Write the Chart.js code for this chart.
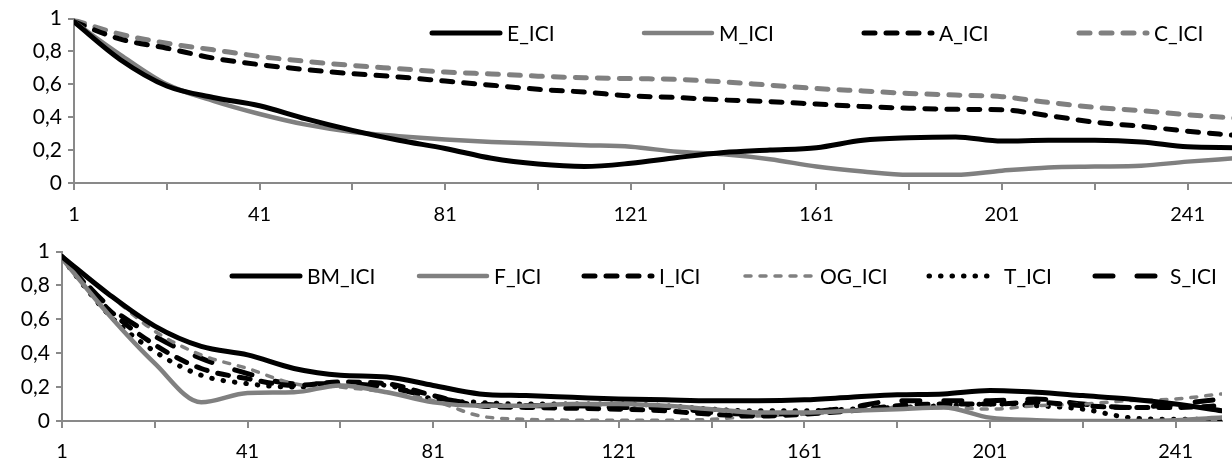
<!DOCTYPE html>
<html>
<head>
<meta charset="utf-8">
<script src="https://cdn.jsdelivr.net/npm/chart.js@4.4.1/dist/chart.umd.min.js"></script>
<style>
  html, body { margin: 0; padding: 0; background: #fff; overflow: hidden; }
  .panel { position: absolute; left: 0; }
</style>
</head>
<body>
<div class="panel" style="top:0"><canvas id="topChart" width="1240" height="233"></canvas></div>
<div class="panel" style="top:233px"><canvas id="bottomChart" width="1232" height="233"></canvas></div>
<script>
// === Data (one value every 10 steps) ===
const steps = [1, 11, 21, 31, 41, 51, 61, 71, 81, 91, 101, 111, 121, 131, 141, 151, 161, 171, 181, 191, 201, 211, 221, 231, 241, 251];
const xTickLabels = [1, 41, 81, 121, 161, 201, 241];
const yTicks = [0, 0.2, 0.4, 0.6, 0.8, 1];

// top panel
const E_ICI = [0.98, 0.75, 0.59, 0.52, 0.47, 0.39, 0.32, 0.26, 0.21, 0.15, 0.115, 0.10, 0.12, 0.155, 0.185, 0.20, 0.215, 0.26, 0.275, 0.28, 0.255, 0.26, 0.26, 0.25, 0.22, 0.215];
const M_ICI = [0.98, 0.78, 0.60, 0.50, 0.42, 0.355, 0.31, 0.285, 0.265, 0.25, 0.24, 0.23, 0.22, 0.19, 0.175, 0.145, 0.10, 0.07, 0.05, 0.05, 0.075, 0.095, 0.10, 0.105, 0.13, 0.15];
const A_ICI = [0.98, 0.875, 0.82, 0.76, 0.72, 0.69, 0.665, 0.645, 0.62, 0.595, 0.57, 0.553, 0.53, 0.52, 0.505, 0.495, 0.48, 0.465, 0.455, 0.448, 0.445, 0.41, 0.37, 0.345, 0.315, 0.29];
const C_ICI = [0.99, 0.905, 0.85, 0.81, 0.77, 0.74, 0.715, 0.695, 0.675, 0.663, 0.65, 0.64, 0.635, 0.63, 0.615, 0.595, 0.575, 0.56, 0.545, 0.535, 0.525, 0.49, 0.46, 0.44, 0.415, 0.395];

// bottom panel
const BM_ICI = [0.97, 0.75, 0.56, 0.44, 0.39, 0.31, 0.27, 0.26, 0.21, 0.16, 0.15, 0.14, 0.13, 0.125, 0.12, 0.12, 0.125, 0.14, 0.155, 0.16, 0.18, 0.17, 0.15, 0.13, 0.10, 0.06];
const F_ICI = [0.96, 0.63, 0.34, 0.11, 0.165, 0.17, 0.21, 0.17, 0.11, 0.09, 0.09, 0.10, 0.10, 0.09, 0.07, 0.05, 0.05, 0.06, 0.07, 0.08, 0.02, 0.005, 0.0, 0.0, 0.005, 0.02];
const I_ICI = [0.97, 0.66, 0.45, 0.31, 0.25, 0.21, 0.23, 0.22, 0.15, 0.09, 0.08, 0.075, 0.07, 0.06, 0.04, 0.03, 0.04, 0.06, 0.09, 0.10, 0.10, 0.11, 0.09, 0.08, 0.08, 0.09];
const OG_ICI = [0.97, 0.75, 0.53, 0.39, 0.31, 0.22, 0.20, 0.17, 0.12, 0.03, 0.01, 0.005, 0.005, 0.005, 0.01, 0.03, 0.04, 0.06, 0.08, 0.08, 0.07, 0.09, 0.10, 0.12, 0.13, 0.16];
const T_ICI = [0.96, 0.63, 0.41, 0.27, 0.22, 0.20, 0.22, 0.21, 0.13, 0.11, 0.10, 0.10, 0.10, 0.09, 0.07, 0.06, 0.06, 0.07, 0.08, 0.09, 0.10, 0.09, 0.07, 0.02, 0.01, 0.01];
const S_ICI = [0.97, 0.68, 0.50, 0.37, 0.28, 0.22, 0.22, 0.20, 0.14, 0.10, 0.09, 0.09, 0.08, 0.08, 0.05, 0.04, 0.05, 0.08, 0.12, 0.12, 0.12, 0.13, 0.10, 0.08, 0.10, 0.13];

const BLACK = "#000000";
const GRAY = "#808080";
const AXIS = "#898989";
const FONT = "Lato, Carlito, Calibri, 'Liberation Sans', sans-serif";

function series(label, values, color, width, dash) {
  return {
    label: label,
    data: steps.map((x, k) => ({ x: x, y: values[k] })),
    borderColor: color,
    borderWidth: width,
    borderDash: dash,
    borderCapStyle: "round",
    borderJoinStyle: "round",
    pointRadius: 0,
    cubicInterpolationMode: "monotone",
    fill: false
  };
}

// legend drawn inside the plot, Excel style
const insideLegend = {
  id: "insideLegend",
  afterDraw(chart, args, opts) {
    const ctx = chart.ctx;
    ctx.save();
    chart.data.datasets.forEach((ds, i) => {
      const x = opts.x[i];
      const y = opts.y;
      ctx.beginPath();
      ctx.strokeStyle = ds.borderColor;
      ctx.lineWidth = ds.borderWidth;
      ctx.lineCap = "round";
      ctx.setLineDash(ds.borderDash || []);
      ctx.moveTo(x + 2, y);
      ctx.lineTo(x + opts.sample, y);
      ctx.stroke();
      ctx.setLineDash([]);
      ctx.fillStyle = "#000";
      ctx.font = opts.font;
      ctx.textBaseline = "middle";
      ctx.fillText(ds.label, x + opts.sample + opts.gap, y + 1);
    });
    ctx.restore();
  }
};

function makeOptions(axisWidth, axisHeight, padTop, padRight, legendX, legendY, labelPad) {
  return {
    responsive: false,
    animation: false,
    layout: { padding: { top: padTop, right: padRight, left: 0, bottom: 0 } },
    plugins: {
      legend: { display: false },
      tooltip: { enabled: false },
      insideLegend: { x: legendX, y: legendY, sample: 70, gap: 7, font: "21px " + FONT }
    },
    scales: {
      x: {
        type: "linear",
        min: 1,
        max: 251,
        afterBuildTicks: (s) => {
          const t = [];
          for (let v = 1; v <= 241; v += 20) t.push({ value: v });
          s.ticks = t;
        },
        afterFit: (s) => { s.height = axisHeight; },
        grid: { drawOnChartArea: false, drawTicks: true, tickLength: 7, color: AXIS, lineWidth: 2 },
        border: { display: true, color: AXIS, width: 2 },
        ticks: {
          autoSkip: false,
          maxRotation: 0,
          padding: labelPad,
          color: "#000",
          font: { family: FONT, size: 20 },
          callback: (v) => (xTickLabels.includes(v) ? String(v) : "")
        }
      },
      y: {
        min: 0,
        max: 1,
        afterBuildTicks: (s) => { s.ticks = yTicks.map((v) => ({ value: v })); },
        afterFit: (s) => { s.width = axisWidth; },
        grid: { drawOnChartArea: false, drawTicks: true, tickLength: 6, color: AXIS, lineWidth: 2 },
        border: { display: true, color: AXIS, width: 2 },
        ticks: {
          padding: 6,
          color: "#000",
          font: { family: FONT, size: 21 },
          callback: (v) => String(+v.toFixed(1)).replace(".", ",")
        }
      }
    }
  };
}

window.addEventListener("DOMContentLoaded", () => {
  new Chart(document.getElementById("topChart"), {
    type: "line",
    data: {
      datasets: [
        series("E_ICI", E_ICI, BLACK, 5, []),
        series("M_ICI", M_ICI, GRAY, 4.5, []),
        series("A_ICI", A_ICI, BLACK, 5, [11, 11]),
        series("C_ICI", C_ICI, GRAY, 5, [11, 11])
      ]
    },
    options: makeOptions(74, 50, 18, 6, [430, 642, 862, 1077], 33, 13),
    plugins: [insideLegend]
  });

  new Chart(document.getElementById("bottomChart"), {
    type: "line",
    data: {
      datasets: [
        series("BM_ICI", BM_ICI, BLACK, 5, []),
        series("F_ICI", F_ICI, GRAY, 4.5, []),
        series("I_ICI", I_ICI, BLACK, 5, [11, 11]),
        series("OG_ICI", OG_ICI, GRAY, 3.5, [6, 9]),
        series("T_ICI", T_ICI, BLACK, 5, [0.5, 11]),
        series("S_ICI", S_ICI, BLACK, 5, [18, 24])
      ]
    },
    options: makeOptions(62, 45, 13, 10, [230, 417, 582, 743, 927, 1093], 43, 12),
    plugins: [insideLegend]
  });
});
</script>
</body>
</html>
